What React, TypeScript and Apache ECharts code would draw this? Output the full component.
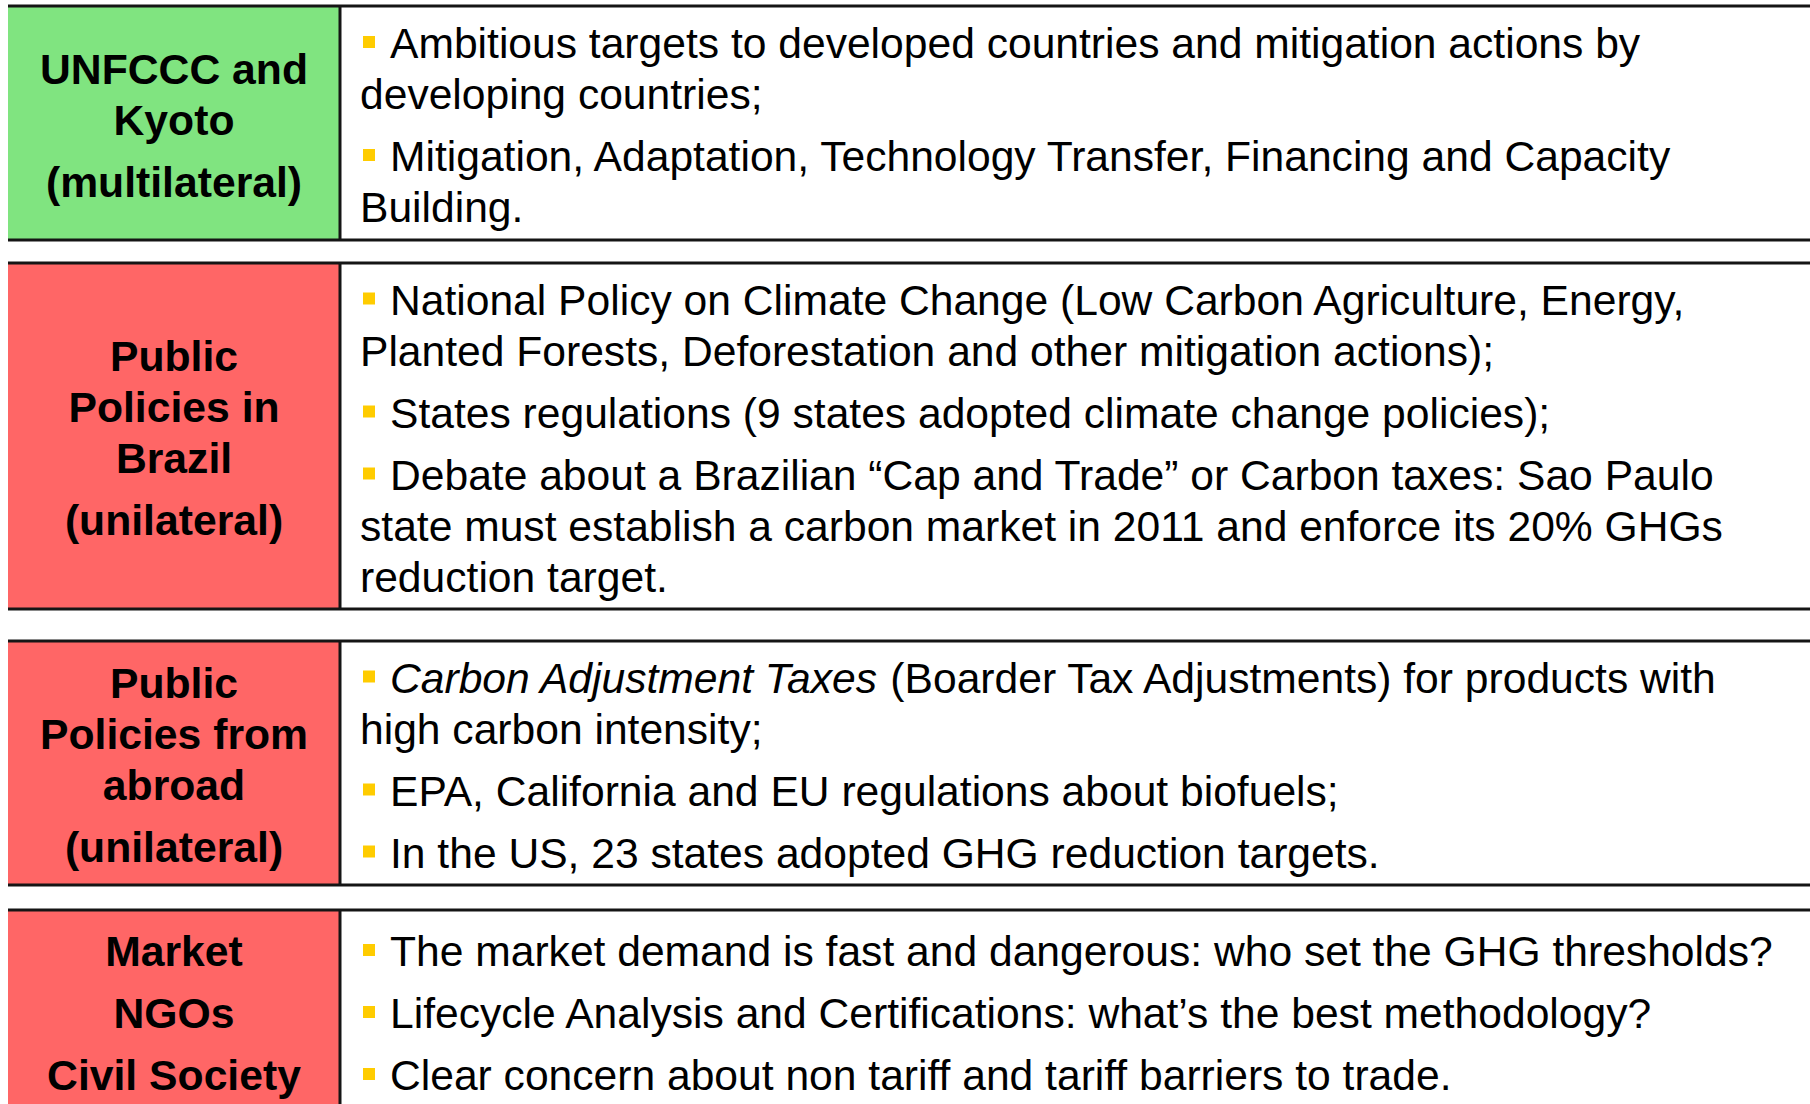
import React, { useEffect, useRef } from "react";
import * as echarts from "echarts";

// ---- content ----
const rowLabels: string[][][] = [
  [["UNFCCC and", "Kyoto"], ["(multilateral)"]],
  [["Public", "Policies in", "Brazil"], ["(unilateral)"]],
  [["Public", "Policies from", "abroad"], ["(unilateral)"]],
  [["Market"], ["NGOs"], ["Civil Society"]],
];

const rowColors: string[] = ["#80E480", "#FF6666", "#FF6666", "#FF6666"];

const rowItems: string[][][] = [
  [
    ["Ambitious targets to developed countries and mitigation actions by", "developing countries;"],
    ["Mitigation, Adaptation, Technology Transfer, Financing and Capacity", "Building."],
  ],
  [
    ["National Policy on Climate Change (Low Carbon Agriculture, Energy,", "Planted Forests, Deforestation and other mitigation actions);"],
    ["States regulations (9 states adopted climate change policies);"],
    [
      "Debate about a Brazilian \u201CCap and Trade\u201D or Carbon taxes: Sao Paulo",
      "state must establish a carbon market in 2011 and enforce its 20% GHGs",
      "reduction target.",
    ],
  ],
  [
    ["{i|Carbon Adjustment Taxes} (Boarder Tax Adjustments) for products with", "high carbon intensity;"],
    ["EPA, California and EU regulations about biofuels;"],
    ["In the US, 23 states adopted GHG reduction targets."],
  ],
  [
    ["The market demand is fast and dangerous: who set the GHG thresholds?"],
    ["Lifecycle Analysis and Certifications: what\u2019s the best methodology?"],
    ["Clear concern about non tariff and tariff barriers to trade."],
  ],
];

// ---- layout ----
const rowTop = [6, 263, 641, 910];
const rowBottom = [240, 609, 885, 1112];
const LEFT = 8;
const DIVIDER = 340;
const RIGHT = 1810;
const LINE_STEP = 51;
const PARA_STEP = 62;
const BODY_SIZE = 42.6;
const TITLE_SIZE = 42.7;
const FONT = "Liberation Sans, Arial, Helvetica, sans-serif";
const BULLET_X = 363;
const BULLET_SIZE = 12;
const FIRST_X = 390;
const CONT_X = 360;

type Line = { text: string; y: number; first: boolean };

function layoutLines(paras: string[][]): Line[] {
  const out: Line[] = [];
  let y = 0;
  let started = false;
  paras.forEach((p) => {
    p.forEach((t, i) => {
      if (started) y += i === 0 ? PARA_STEP : LINE_STEP;
      started = true;
      out.push({ text: t, y, first: i === 0 });
    });
  });
  const span = y;
  return out.map((o) => ({ ...o, y: o.y - span / 2 }));
}

function buildElements(): any[] {
  const els: any[] = [];
  rowLabels.forEach((labels, r) => {
    const top = rowTop[r];
    const bottom = rowBottom[r];
    const center = (top + bottom) / 2 + 2;
    els.push({
      type: "rect",
      z: 1,
      shape: { x: LEFT, y: top, width: DIVIDER - LEFT, height: bottom - top },
      style: { fill: rowColors[r] },
    });
    els.push({
      type: "rect",
      z: 1,
      shape: { x: DIVIDER, y: top, width: RIGHT - DIVIDER, height: bottom - top },
      style: { fill: "#FFFFFF" },
    });
    [top, bottom].forEach((yy) => {
      els.push({
        type: "line",
        z: 5,
        shape: { x1: LEFT, y1: yy, x2: RIGHT, y2: yy },
        style: { stroke: "#151515", lineWidth: 3 },
      });
    });
    els.push({
      type: "line",
      z: 5,
      shape: { x1: DIVIDER, y1: top, x2: DIVIDER, y2: bottom },
      style: { stroke: "#151515", lineWidth: 3 },
    });
    layoutLines(labels).forEach((ln) => {
      els.push({
        type: "text",
        z: 10,
        x: (LEFT + DIVIDER) / 2,
        y: center + ln.y,
        style: {
          text: ln.text,
          fontSize: TITLE_SIZE,
          fontWeight: "bold",
          fontFamily: FONT,
          fill: "#000000",
          align: "center",
          verticalAlign: "middle",
        },
      });
    });
    layoutLines(rowItems[r]).forEach((ln) => {
      if (ln.first) {
        els.push({
          type: "rect",
          z: 10,
          shape: {
            x: BULLET_X,
            y: center + ln.y - BULLET_SIZE / 2 - 1,
            width: BULLET_SIZE,
            height: BULLET_SIZE,
          },
          style: { fill: "#FFCC00" },
        });
      }
      els.push({
        type: "text",
        z: 10,
        x: ln.first ? FIRST_X : CONT_X,
        y: center + ln.y,
        style: {
          text: ln.text,
          fontSize: BODY_SIZE,
          fontFamily: FONT,
          fill: "#000000",
          align: "left",
          verticalAlign: "middle",
          rich: {
            i: { fontStyle: "italic", fontSize: BODY_SIZE, fontFamily: FONT, fill: "#000000" },
          },
        },
      });
    });
  });
  return els;
}

export default function App() {
  const ref = useRef<HTMLDivElement>(null);
  useEffect(() => {
    document.body.style.margin = "0";
    document.body.style.overflow = "hidden";
    if (!ref.current) return;
    const chart = echarts.init(ref.current, undefined, { renderer: "svg" });
    chart.setOption({
      animation: false,
      backgroundColor: "#FFFFFF",
      graphic: { elements: buildElements() },
    });
    return () => chart.dispose();
  }, []);
  return <div ref={ref} style={{ width: 1810, height: 1104 }} />;
}
